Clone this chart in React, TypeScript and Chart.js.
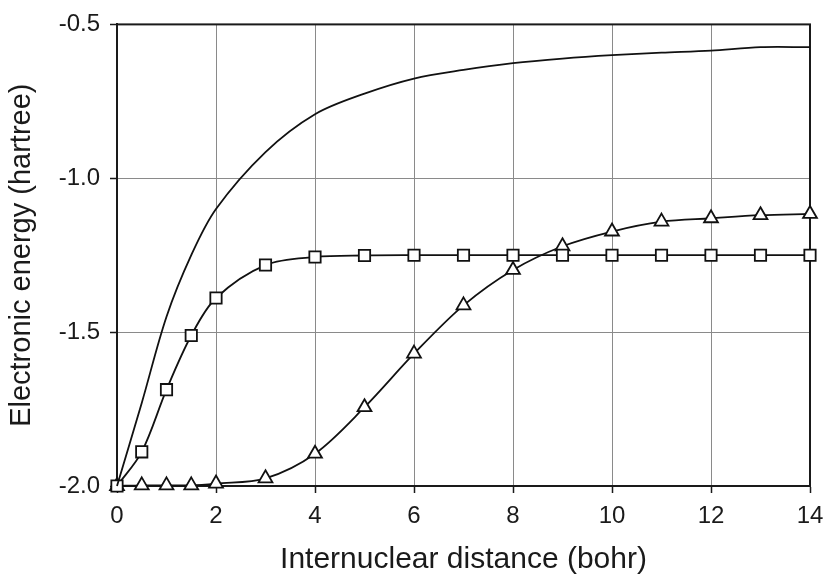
import React, { useEffect, useRef } from "react";
import { Chart, registerables } from "chart.js";

Chart.register(...registerables);

// Internuclear distance (bohr)
const distances = [0, 0.5, 1, 1.5, 2, 3, 4, 5, 6, 7, 8, 9, 10, 11, 12, 13, 14];
// Upper curve (no markers)
const curveTop = [-2.0, -1.73, -1.45, -1.25, -1.1, -0.915, -0.792, -0.725, -0.676, -0.648, -0.626, -0.611, -0.6, -0.592, -0.585, -0.574, -0.574];
// Square-marker series
const curveSquares = [-2.0, -1.889, -1.687, -1.511, -1.389, -1.282, -1.256, -1.251, -1.25, -1.25, -1.25, -1.25, -1.25, -1.25, -1.25, -1.25, -1.25];
// Triangle-marker series
const curveTriangles = [-2.0, -1.998, -1.998, -1.998, -1.992, -1.975, -1.895, -1.744, -1.57, -1.413, -1.298, -1.221, -1.173, -1.141, -1.13, -1.12, -1.116];

const xMin = 0;
const xMax = 14;
const xStep = 2;
const yMin = -2.0;
const yMax = -0.5;
const yStep = 0.5;

const xTitle = "Internuclear distance (bohr)";
const yTitle = "Electronic energy (hartree)";

const toPoints = (ys: number[]) => distances.map((x, i) => ({ x, y: ys[i] }));

const FONT = "'Liberation Sans', Arial, Helvetica, sans-serif";
const TEXT = "#1a1a1a";

const boxPlugin = {
  id: "plotBox",
  beforeDatasetsDraw(chart: any) {
    const { ctx, chartArea } = chart;
    ctx.save();
    ctx.strokeStyle = "#1a1a1a";
    ctx.lineWidth = 2;
    ctx.strokeRect(chartArea.left, chartArea.top, chartArea.right - chartArea.left, chartArea.bottom - chartArea.top);
    ctx.restore();
  },
};

export default function App() {
  const ref = useRef<HTMLCanvasElement | null>(null);

  useEffect(() => {
    if (!ref.current) return;
    const common = {
      borderColor: "#111",
      borderWidth: 1.8,
      pointBackgroundColor: "#ffffff",
      pointBorderColor: "#111",
      pointBorderWidth: 1.8,
      tension: 0.33,
      clip: false as any,
      fill: false,
    };
    const chart = new Chart(ref.current, {
      type: "line",
      data: {
        datasets: [
          { ...common, label: "top", data: toPoints(curveTop), pointRadius: 0 },
          { ...common, label: "squares", data: toPoints(curveSquares), pointStyle: "rect", pointRadius: 8 },
          { ...common, label: "triangles", data: toPoints(curveTriangles), pointStyle: "triangle", pointRadius: 8 },
        ],
      },
      options: {
        animation: false,
        responsive: false,
        events: [],
        layout: { padding: { left: 0, right: 25, top: 20, bottom: 0 } },
        plugins: { legend: { display: false }, tooltip: { enabled: false } },
        scales: {
          x: {
            type: "linear",
            min: xMin,
            max: xMax,
            afterFit: (s: any) => { s.height = 92; },
            ticks: {
              stepSize: xStep,
              padding: 9,
              color: TEXT,
              font: { family: FONT, size: 24 },
              maxRotation: 0,
              callback: (v: any) => String(v),
            },
            grid: { color: "#8a8a8a", lineWidth: 1, tickLength: 7, tickColor: "#1a1a1a", tickWidth: 1.5 },
            border: { color: "#1a1a1a", width: 2 },
            title: { display: true, text: xTitle, color: TEXT, font: { family: FONT, size: 30 }, padding: { top: 0, bottom: 0 } },
          },
          y: {
            type: "linear",
            min: yMin,
            max: yMax,
            afterFit: (s: any) => { s.width = 117; },
            ticks: {
              stepSize: yStep,
              padding: 10,
              color: TEXT,
              font: { family: FONT, size: 24 },
              callback: (v: any) => Number(v).toFixed(1),
            },
            grid: { color: "#8a8a8a", lineWidth: 1, tickLength: 7, tickColor: "#1a1a1a", tickWidth: 1.5 },
            border: { color: "#1a1a1a", width: 2 },
            title: { display: true, text: yTitle, color: TEXT, font: { family: FONT, size: 29 }, padding: { top: 5, bottom: 0 } },
          },
        },
      },
      plugins: [boxPlugin],
    });
    return () => chart.destroy();
  }, []);

  return (
    <div style={{ position: "fixed", left: 0, top: 0, width: 835, height: 578, background: "#fff" }}>
      <canvas ref={ref} width={835} height={578} style={{ display: "block", width: 835, height: 578 }} />
    </div>
  );
}
